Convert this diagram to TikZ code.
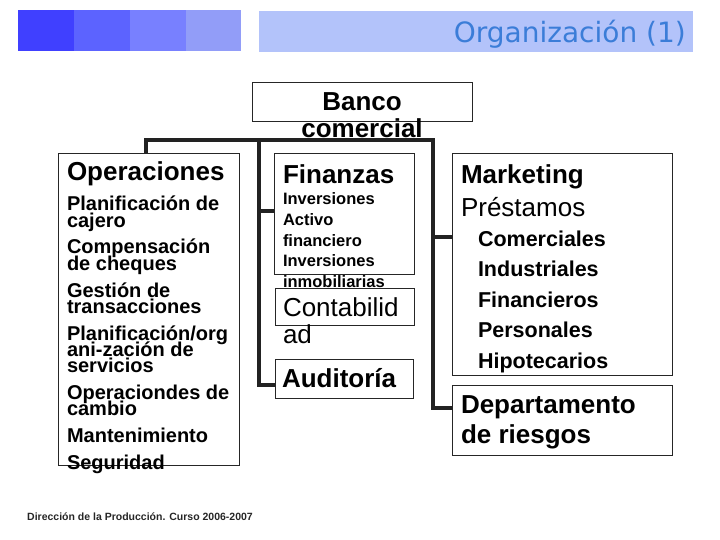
\documentclass[tikz,border=0pt]{standalone}
\usepackage{fontspec}
\setmainfont{Liberation Sans}
\newfontfamily\titlefont{DejaVu Sans}
\usetikzlibrary{calc}
\definecolor{sqA}{HTML}{4040FF}
\definecolor{sqB}{HTML}{5C63FF}
\definecolor{sqC}{HTML}{7880FF}
\definecolor{sqD}{HTML}{929DF8}
\definecolor{barc}{HTML}{B3C3FA}
\definecolor{titlec}{HTML}{3B7DD8}
\definecolor{linec}{HTML}{222222}
\begin{document}
\begin{tikzpicture}[x=1pt,y=-1pt,
  box/.style={draw=black!85, line width=0.9pt, inner sep=0pt, outer sep=0pt, anchor=north west},
  bus/.style={draw=linec, line width=4pt, line join=miter},
  ln/.style={inner sep=0pt, outer sep=0pt, anchor=base west},
  hd/.style={ln, font=\fontsize{26}{30}\selectfont\bfseries},
  rg/.style={ln, font=\fontsize{26}{30}\selectfont},
  it/.style={ln, font=\fontsize{20}{20}\selectfont\bfseries},
  sm/.style={ln, font=\fontsize{16.5}{18}\selectfont\bfseries},
  mi/.style={ln, font=\fontsize{21.5}{22}\selectfont\bfseries},
]
\useasboundingbox (0,0) rectangle (720,540);
% header
\fill[sqA] (18,10) rectangle (74,51);
\fill[sqB] (74,10) rectangle (130,51);
\fill[sqC] (130,10) rectangle (186,51);
\fill[sqD] (186,10) rectangle (241,51);
\fill[barc] (259,11) rectangle (693,52);
\node[font=\titlefont\fontsize{28}{28}\selectfont, text=titlec, anchor=base east, inner sep=0pt] (title) at (686,43) {Organización (1)};

% boxes
\node[box, minimum width=220pt, minimum height=39pt] (banco) at (252,82) {};
\node[box, minimum width=181pt, minimum height=312pt] (ops) at (58,153) {};
\node[box, minimum width=140pt, minimum height=121pt] (fin) at (274,153) {};
\node[box, minimum width=139pt, minimum height=37pt] (cont) at (275,288) {};
\node[box, minimum width=138pt, minimum height=39pt] (aud) at (275,359) {};
\node[box, minimum width=220pt, minimum height=222pt] (mkt) at (452,153) {};
\node[box, minimum width=220pt, minimum height=70pt] (dep) at (452,385) {};

% Banco comercial
\node[hd, anchor=base] (b1) at (362,111) {Banco};
\node[hd, anchor=base] (b2) at (362,138) {comercial};

% Operaciones
\node[hd] (o0) at (67,181) {Operaciones};
\node[it] (o1) at (67,211) {Planificación de};
\node[it] (o2) at (67,227) {cajero};
\node[it] (o3) at (67,254) {Compensación};
\node[it] (o4) at (67,270) {de cheques};
\node[it] (o5) at (67,297) {Gestión de};
\node[it] (o6) at (67,313) {transacciones};
\node[it] (o7) at (67,340) {Planificación/org};
\node[it] (o8) at (67,356) {ani-zación de};
\node[it] (o9) at (67,372) {servicios};
\node[it] (o10) at (67,399) {Operaciondes de};
\node[it] (o11) at (67,415) {cambio};
\node[it] (o12) at (67,442) {Mantenimiento};
\node[it] (o13) at (67,469) {Seguridad};

% Finanzas
\node[hd] (f0) at (283,184) {Finanzas};
\node[sm] (f1) at (283,205) {Inversiones};
\node[sm] (f2) at (283,225.5) {Activo};
\node[sm] (f3) at (283,246) {financiero};
\node[sm] (f4) at (283,266.5) {Inversiones};
\node[sm] (f5) at (283,287) {inmobiliarias};

% Contabilidad, Auditoria
\node[rg] (c1) at (283,316) {Contabilid};
\node[rg] (c2) at (283,343) {ad};
\node[hd] (a1) at (282,387) {Auditoría};

% Marketing
\node[hd] (m0) at (461,184) {Marketing};
\node[rg] (m1) at (461,216) {Préstamos};
\node[mi] (m2) at (478,246) {Comerciales};
\node[mi] (m3) at (478,276.5) {Industriales};
\node[mi] (m4) at (478,307) {Financieros};
\node[mi] (m5) at (478,337.5) {Personales};
\node[mi] (m6) at (478,368) {Hipotecarios};

% Departamento
\node[hd] (d1) at (461,413) {Departamento};
\node[hd] (d2) at (461,443) {de riesgos};

\node[font=\fontsize{10.5}{11}\selectfont\bfseries, text=black!85, anchor=base west, inner sep=0pt] (foot) at (27,520.5) {Dirección de la Producción. Curso 2006-2007};

% connectors
\coordinate (jL) at (146,140);
\coordinate (jM) at (259,140);
\coordinate (jR) at (433,140);
\coordinate (finB) at ($(fin.north west)+(0,58)$);
\coordinate (audB) at ($(aud.north west)+(0,26)$);
\coordinate (mktB) at ($(mkt.north west)+(0,84)$);
\coordinate (depB) at ($(dep.north west)+(0,23)$);
\draw[bus] (jL |- ops.north) -- (jL) -- (jR) |- (depB);
\draw[bus] (jM) |- (audB);
\draw[bus] (jM |- finB) -- (finB);
\draw[bus] (jR |- mktB) -- (mktB);
\end{tikzpicture}
\end{document}
